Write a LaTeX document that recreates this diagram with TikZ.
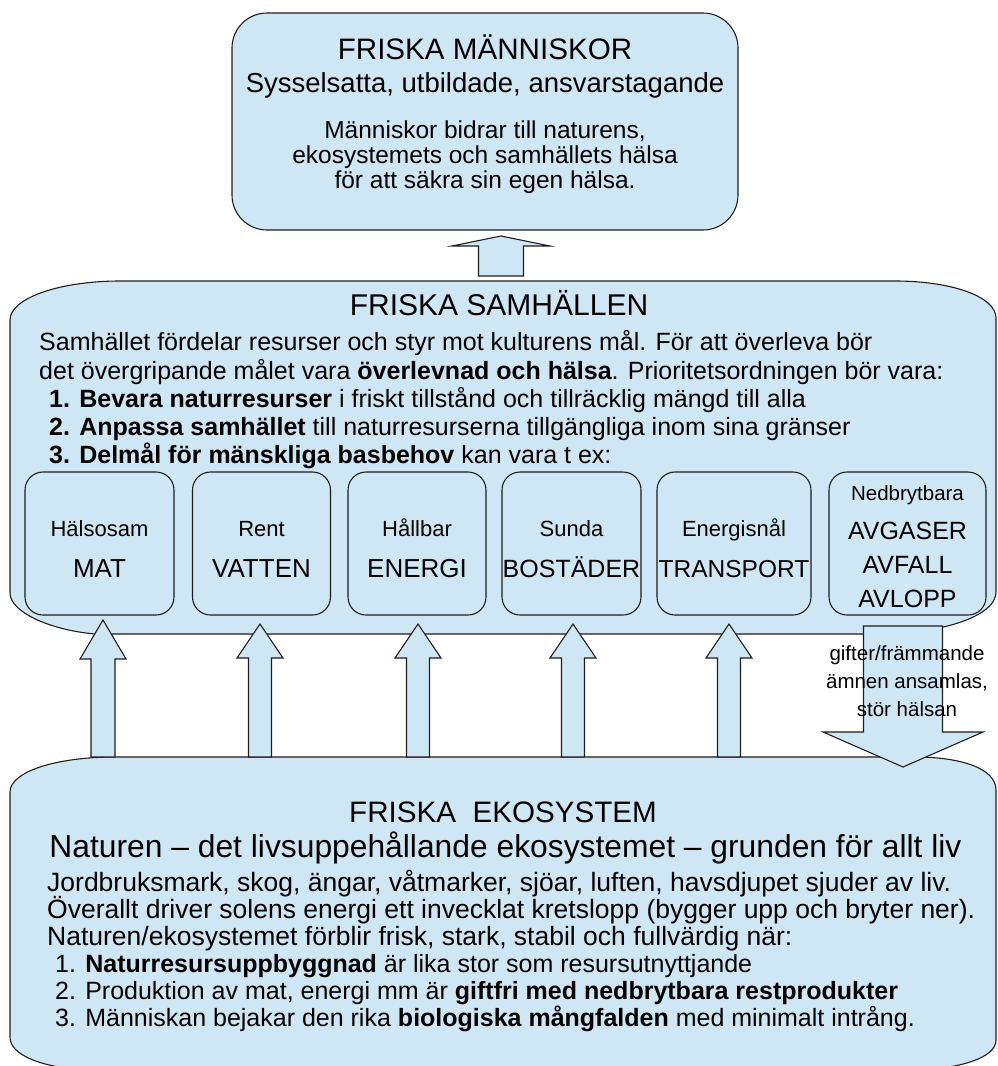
\documentclass[tikz,border=0pt]{standalone}
\usepackage{fontspec}
\setmainfont{Liberation Sans}
\definecolor{boxfill}{HTML}{CFE6F4}
\definecolor{edge}{HTML}{1E1E1E}
\newcommand\blockup[6]{\draw[blk] (#1-#6,#4) -- (#1-#6,#3) -- (#1-#5,#3) -- (#1,#2) -- (#1+#5,#3) -- (#1+#6,#3) -- (#1+#6,#4) -- cycle;}
\newcommand\blockdown[6]{\draw[blk] (#1-#6,#4) -- (#1-#6,#3) -- (#1-#5,#3) -- (#1,#2) -- (#1+#5,#3) -- (#1+#6,#3) -- (#1+#6,#4) -- cycle;}
\begin{document}
\begin{tikzpicture}[x=1pt,y=-1pt,
  blk/.style={fill=boxfill, draw=edge, line width=1.1pt, line join=miter},
  rbox/.style={fill=boxfill, draw=edge, line width=1.1pt, rounded corners=18pt, inner sep=0pt},
  fa/.style={font=\fontsize{29.6}{34}\selectfont, inner sep=0pt, anchor=base},
  fb/.style={font=\fontsize{27.5}{32}\selectfont, inner sep=0pt, anchor=base},
  fc/.style={font=\fontsize{24.5}{29}\selectfont, inner sep=0pt, anchor=base},
  fl/.style={font=\fontsize{25}{29}\selectfont, inner sep=0pt, anchor=base west},
  fn/.style={font=\fontsize{31.8}{36}\selectfont, inner sep=0pt, anchor=base},
  fe/.style={font=\fontsize{26.5}{31}\selectfont, inner sep=0pt, anchor=base west},
  fk/.style={font=\fontsize{25}{29}\selectfont, inner sep=0pt, anchor=base west},
  fs/.style={font=\fontsize{22}{26}\selectfont, inner sep=0pt, anchor=base},
  fbig/.style={font=\fontsize{26}{30}\selectfont, inner sep=0pt, anchor=base},
  fmid/.style={font=\fontsize{25}{30}\selectfont, inner sep=0pt, anchor=base},
  fx/.style={font=\fontsize{20.5}{24}\selectfont, inner sep=0pt, anchor=base},
  fg/.style={font=\fontsize{20.5}{24}\selectfont, inner sep=0pt, anchor=base}]
\useasboundingbox (0,0) rectangle (997,1066);
\clip (0,0) rectangle (997,1066);

% bottom box
\draw[blk] (10,792) .. controls (10,772) and (55,757) .. (115,757) -- (915,757)
  .. controls (960,757) and (996,768) .. (996,790) -- (996,1040)
  .. controls (996,1058) and (960,1068) .. (920,1070) -- (80,1070)
  .. controls (40,1066) and (10,1055) .. (10,1037) -- cycle;
% middle box
\draw[blk] (10,320) .. controls (10,298) and (60,281) .. (120,281) -- (895,281)
  .. controls (950,281) and (996,296) .. (996,318) -- (996,592)
  .. controls (996,612) and (960,628) .. (900,634) -- (95,634)
  .. controls (50,630) and (10,612) .. (10,593) -- cycle;
% top box
\node[rbox, rounded corners=35pt, minimum width=506pt, minimum height=217pt] (top) at (485,121.5) {};

% small boxes
\node[rbox, minimum width=149pt, minimum height=143pt] (b1) at (99.5,543.5) {};
\node[rbox, minimum width=138pt, minimum height=143pt] (b2) at (261.5,543.5) {};
\node[rbox, minimum width=138pt, minimum height=143pt] (b3) at (417,543.5) {};
\node[rbox, minimum width=139pt, minimum height=143pt] (b4) at (571.5,543.5) {};
\node[rbox, minimum width=154pt, minimum height=143pt] (b5) at (734,543.5) {};
\node[rbox, minimum width=157pt, minimum height=143pt] (b6) at (907.5,543.5) {};

% arrows
\blockup{501}{236}{246}{276}{49}{22.5}
\blockup{103}{620}{659}{757}{23}{12}
\blockup{260}{624}{658}{757}{23}{11.5}
\blockup{418}{624}{658}{757}{23}{11.5}
\blockup{573}{624}{658}{757}{23}{11.5}
\blockup{729}{624}{658}{757}{23}{11.5}
\blockdown{903}{767}{732}{626}{80}{39.5}

% top texts
\node[fa] (t1) at (485,59) {FRISKA MÄNNISKOR};
\node[fb] (t2) at (485,92) {Sysselsatta, utbildade, ansvarstagande};
\node[fc] (t3) at (485,138) {Människor bidrar till naturens,};
\node[fc] (t4) at (485,163) {ekosystemets och samhällets hälsa};
\node[fc] (t5) at (485,188) {för att säkra sin egen hälsa.};

% middle texts
\node[fa, font=\fontsize{30}{34}\selectfont] (m0) at (499,315) {FRISKA SAMHÄLLEN};
\node[fl] (m1) at (39,350) {Samhället fördelar resurser och styr mot kulturens mål. För att överleva bör};
\node[fl] (m2) at (39,379) {det övergripande målet vara \textbf{överlevnad och hälsa}. Prioritetsordningen bör vara:};
\node[fl] (m3) at (49,407) {\textbf{1. Bevara naturresurser} i friskt tillstånd och tillräcklig mängd till alla};
\node[fl] (m4) at (49,435) {\textbf{2. Anpassa samhället} till naturresurserna tillgängliga inom sina gränser};
\node[fl] (m5) at (49,463) {\textbf{3. Delmål för mänskliga basbehov} kan vara t ex:};

% small box texts
\node[fs] (s1a) at (b1.center |- 0,536) {Hälsosam};
\node[fbig] (s1b) at (b1.center |- 0,577) {MAT};
\node[fs] (s2a) at (b2.center |- 0,536) {Rent};
\node[fbig] (s2b) at (b2.center |- 0,577) {VATTEN};
\node[fs] (s3a) at (b3.center |- 0,536) {Hållbar};
\node[fbig] (s3b) at (b3.center |- 0,577) {ENERGI};
\node[fs] (s4a) at (b4.center |- 0,536) {Sunda};
\node[fmid] (s4b) at (b4.center |- 0,577) {BOSTÄDER};
\node[fs] (s5a) at (b5.center |- 0,536) {Energisnål};
\node[fmid, font=\fontsize{24.5}{30}\selectfont] (s5b) at (b5.center |- 0,577) {TRANSPORT};
\node[fx] (s6a) at (b6.center |- 0,500) {Nedbrytbara};
\node[fmid] (s6b) at (b6.center |- 0,539) {AVGASER};
\node[fmid] (s6c) at (b6.center |- 0,573) {AVFALL};
\node[fmid] (s6d) at (b6.center |- 0,607) {AVLOPP};

% arrow label
\node[fg] (g1) at (907,660) {gifter/främmande};
\node[fg] (g2) at (907,688) {ämnen ansamlas,};
\node[fg] (g3) at (907,716) {stör hälsan};

% bottom texts
\node[fa] (e0) at (503,822) {FRISKA\ \ EKOSYSTEM};
\node[fn] (e1) at (505.5,857) {Naturen – det livsuppehållande ekosystemet – grunden för allt liv};
\node[fe] (e2) at (47,891) {Jordbruksmark, skog, ängar, våtmarker, sjöar, luften, havsdjupet sjuder av liv.};
\node[fe] (e3) at (47,918) {Överallt driver solens energi ett invecklat kretslopp (bygger upp och bryter ner).};
\node[fe] (e4) at (47,945) {Naturen/ekosystemet förblir frisk, stark, stabil och fullvärdig när:};
\node[fk] (e5) at (55,972) {1. \textbf{Naturresursuppbyggnad} är lika stor som resursutnyttjande};
\node[fk] (e6) at (55,999) {2. Produktion av mat, energi mm är \textbf{giftfri med nedbrytbara restprodukter}};
\node[fk] (e7) at (55,1026) {3. Människan bejakar den rika \textbf{biologiska mångfalden} med minimalt intrång.};
\end{tikzpicture}
\end{document}
